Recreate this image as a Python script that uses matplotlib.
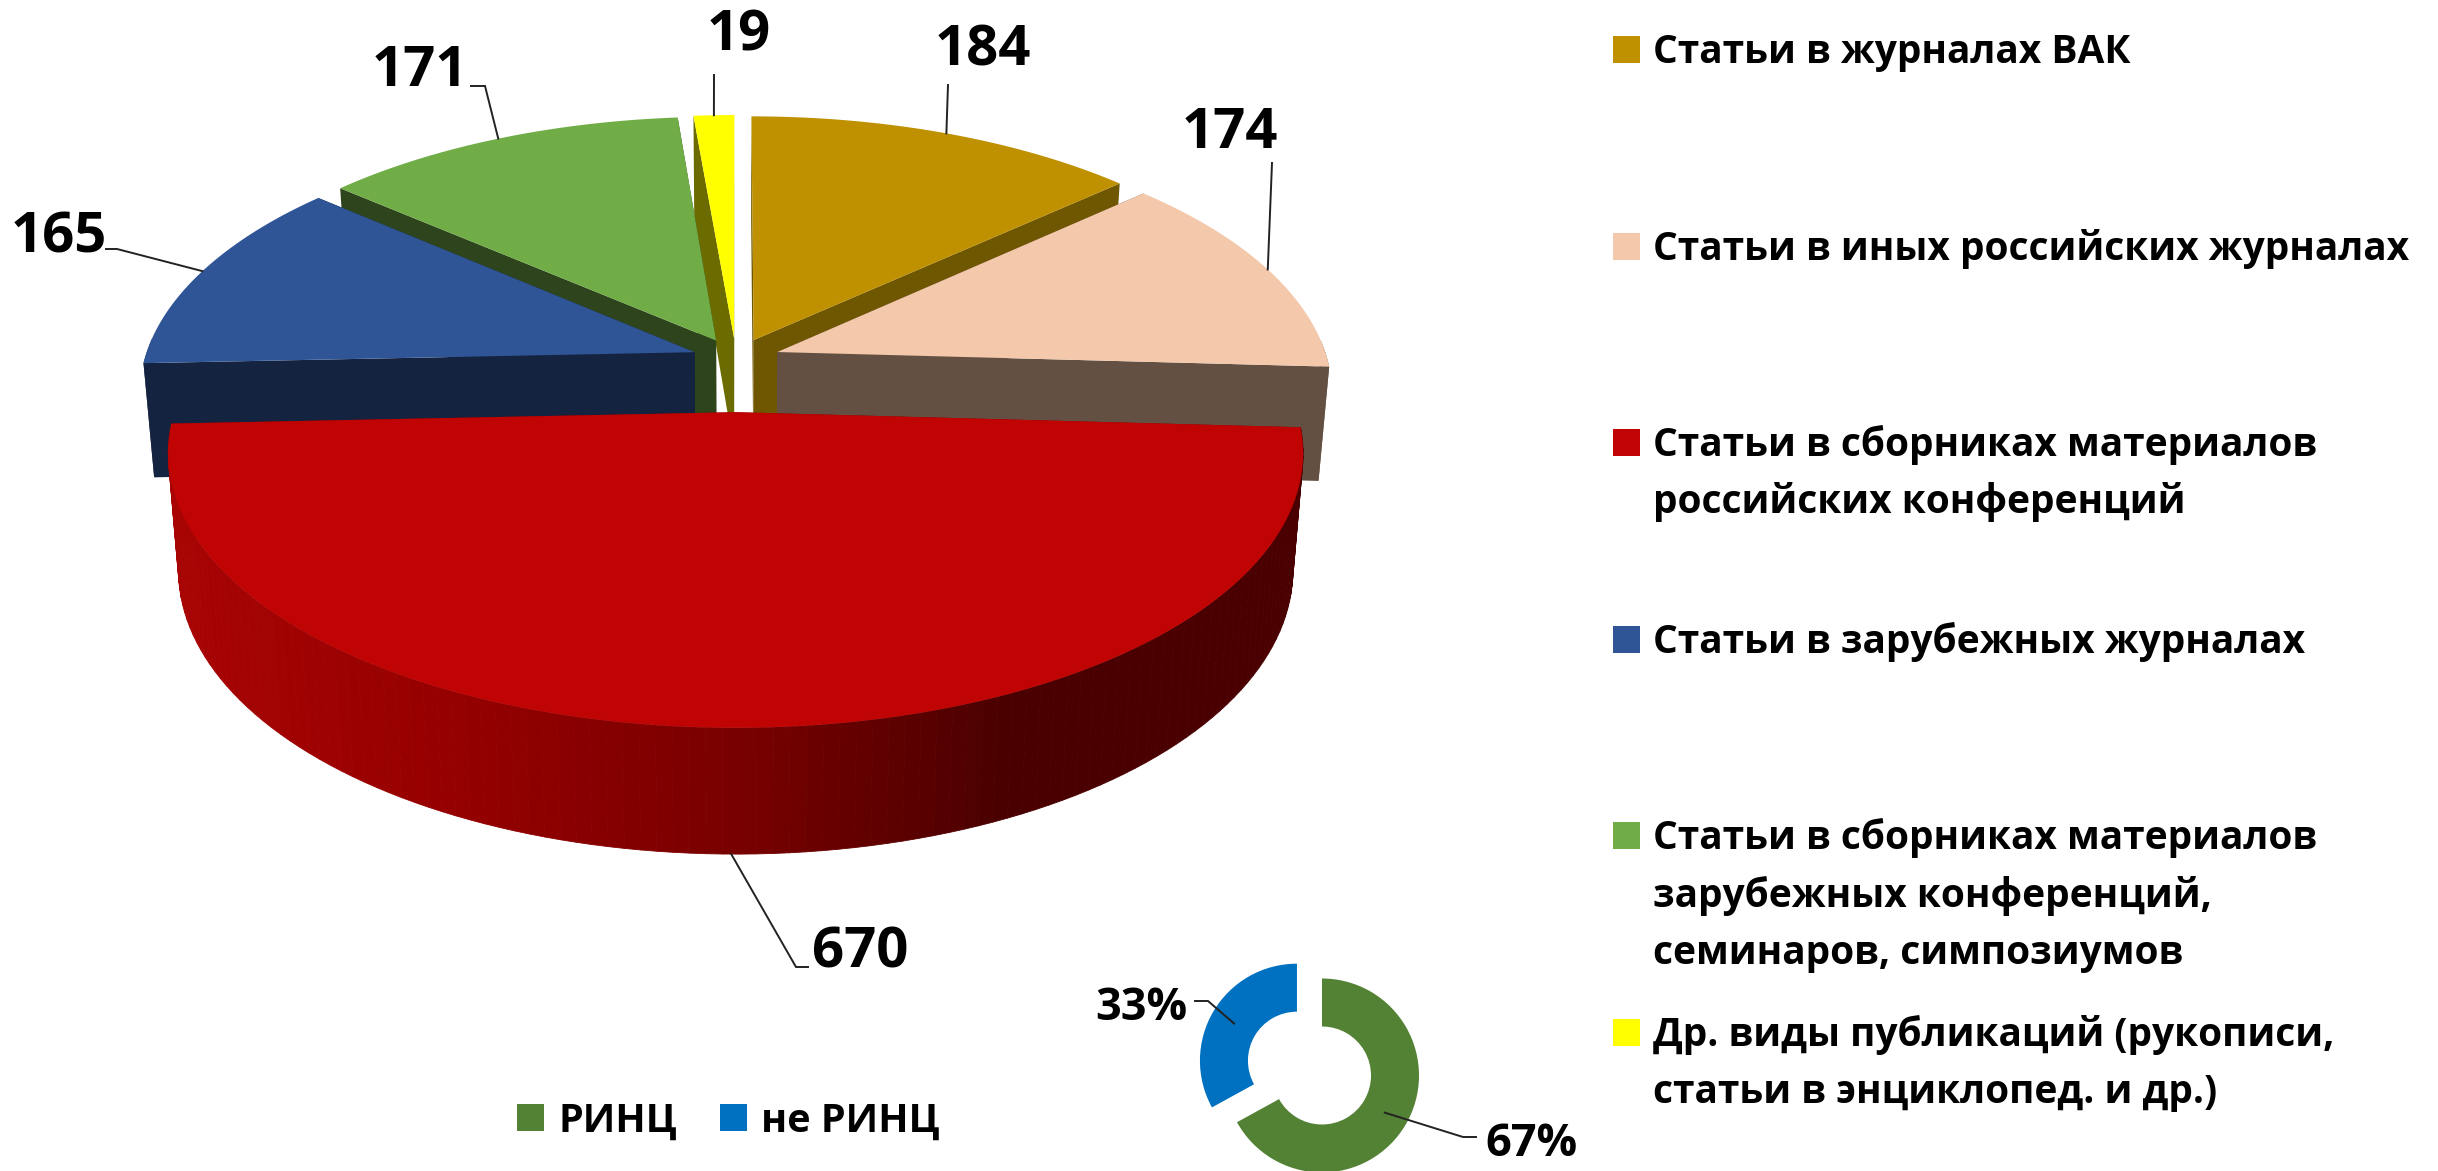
import numpy as np
import matplotlib
matplotlib.use("Agg")
import matplotlib.pyplot as plt
from matplotlib.colors import LinearSegmentedColormap
from matplotlib.patches import Rectangle, Wedge

plt.rcParams["font.family"] = ["Open Sans", "DejaVu Sans"]
plt.rcParams["font.weight"] = "bold"

# publication counts, clockwise from 12 o'clock
values = [184, 174, 670, 165, 171, 19]
top_colors = ["#BF9000", "#F4C8AA", "#C00404", "#2F5597", "#70AD47", "#FFFF00"]
wall_colors = ["#6F5600", "#635042", "#7A0000", "#14233F", "#2D441C", "#6B6B00"]
legend_lines = [
    ["Статьи в журналах ВАК"],
    ["Статьи в иных российских журналах"],
    ["Статьи в сборниках материалов", "российских конференций"],
    ["Статьи в зарубежных журналах"],
    ["Статьи в сборниках материалов", "зарубежных конференций,", "семинаров, симпозиумов"],
    ["Др. виды публикаций (рукописи,", "статьи в энциклопед. и др.)"],
]
legend_y = [49, 246, 442, 639, 835, 1032]

# small ring
ring_values = [67, 33]
ring_names = ["РИНЦ", "не РИНЦ"]
ring_colors = ["#548235", "#0070C0"]

# pie geometry in pixels
CX, CY = 736, 359
A, B, DEPTH = 550, 262, 114
PERSP = 0.148
EXPLODE = 0.08
RED_DROP = 32  # the big slice sits lower than the rest
RED_WIDE = 1.008


def project(u, v, z=0.0):
    s = 1 / (1 - PERSP * v)
    x = CX + A * u * s * (1 - 0.018 * z)
    y = CY + B * v * s + DEPTH * z * (1 + 0.1 * v)
    return x, y


def slice_point(mid, ang, r, z, drop):
    # ang clockwise from the top, v grows towards the viewer
    u = EXPLODE * np.sin(mid) + r * np.sin(ang)
    v = -EXPLODE * np.cos(mid) - r * np.cos(ang)
    if drop:
        u = u * RED_WIDE
    x, y = project(u, v, z)
    return x, y + drop


fig = plt.figure(figsize=(24.38, 11.71), dpi=100)
ax = fig.add_axes([0, 0, 1, 1])
ax.set_xlim(0, 2438)
ax.set_ylim(1171, 0)
ax.axis("off")

shares = np.array(values) / sum(values) * 2 * np.pi
starts = np.concatenate([[0], np.cumsum(shares)[:-1]])
mids = starts + shares / 2
red_grad = LinearSegmentedColormap.from_list("wall", ["#A80404", "#960000", "#7A0000", "#4A0000", "#4A0000"])

# back to front
for z_i, i in enumerate([5, 4, 0, 1, 3, 2]):
    a0, a1, mid = starts[i], starts[i] + shares[i], mids[i]
    drop = RED_DROP if i == 2 else 0
    arc = np.linspace(a0, a1, 120)

    # radial walls
    for ang in (a0, a1):
        p0 = slice_point(mid, ang, 0, 0, drop)
        p1 = slice_point(mid, ang, 1, 0, drop)
        p2 = slice_point(mid, ang, 1, 1, drop)
        p3 = slice_point(mid, ang, 0, 1, drop)
        xs, ys = zip(p0, p1, p2, p3)
        ax.fill(xs, ys, color=wall_colors[i], lw=0, zorder=z_i * 3 + 1)

    # outer wall, only the strips facing the viewer; red shades across
    for a, b in zip(arc[:-1], arc[1:]):
        if np.cos(a) > 0.05:
            continue
        p0 = slice_point(mid, a, 1, 0, drop)
        p1 = slice_point(mid, b, 1, 0, drop)
        p2 = slice_point(mid, b, 1, 1, drop)
        p3 = slice_point(mid, a, 1, 1, drop)
        xs, ys = zip(p0, p1, p2, p3)
        if i == 2:
            c = red_grad(np.clip((p0[0] - 170) / 1130, 0, 1))
            ax.fill(xs, ys, color=c, lw=0.6, ec=c, zorder=z_i * 3 + 2)
        else:
            ax.fill(xs, ys, color=wall_colors[i], lw=0, zorder=z_i * 3 + 2)

    # top face
    ox, oy = slice_point(mid, arc, 1, 0, drop)
    ax0, ay0 = slice_point(mid, a0, 0, 0, drop)
    ax.fill(np.r_[ax0, ox], np.r_[ay0, oy], color=top_colors[i], lw=0, zorder=z_i * 3 + 3)


def leader(points):
    xs, ys = zip(*points)
    ax.plot(xs, ys, color="#222222", lw=1.4, zorder=40, solid_joinstyle="miter")


def top_rim(i):
    return slice_point(mids[i], mids[i], 1, 0, 0)


LABEL = dict(fontsize=40.5, ha="center", va="center", color="black", zorder=50)
leader([top_rim(0), (948, 85)])
leader([top_rim(1), (1272, 163)])
leader([top_rim(3), (117, 249), (106, 249)])
leader([top_rim(4), (485, 86), (471, 86)])
leader([top_rim(5), (714, 75)])
leader([slice_point(mids[2], mids[2], 1, 1, RED_DROP), (796, 967), (808, 967)])

label_pos = [(983, 51), (1230, 134), (860, 953), (59, 238), (420, 71), (739, 36)]
for v, (x, y) in zip(values, label_pos):
    ax.text(x, y, str(v), **LABEL)

# right legend
for lines, col, y in zip(legend_lines, top_colors, legend_y):
    ax.add_patch(Rectangle((1613, y - 13.5), 27, 27, color=col, lw=0))
    for n, line in enumerate(lines):
        ax.text(1653, y + 14 + n * 57.5, line, fontsize=28, va="baseline", ha="left", color="black")

# ring, exploded along the blue part
RC, RY = 1322, 1075.5
R_OUT, R_IN = 97, 49
RING_EXPLODE = 0.3
ring_angle = np.array(ring_values) / sum(ring_values) * 360
blue_mid = np.radians(ring_angle[0] + ring_angle[1] / 2)
bx = RC + RING_EXPLODE * R_OUT * np.sin(blue_mid)
by = RY - RING_EXPLODE * R_OUT * np.cos(blue_mid)
# y axis is inverted, so wedges run clockwise from the top with 270 as start
ax.add_patch(Wedge((RC, RY), R_OUT, 270, 270 + ring_angle[0], width=R_OUT - R_IN,
                   color=ring_colors[0], lw=0, zorder=5))
ax.add_patch(Wedge((bx, by), R_OUT, 270 + ring_angle[0], 630, width=R_OUT - R_IN,
                   color=ring_colors[1], lw=0, zorder=5))
rm = (R_OUT + R_IN) / 2
green_mid = np.radians(ring_angle[0] / 2)
leader([(RC + rm * np.sin(green_mid), RY - rm * np.cos(green_mid)), (1463, 1137), (1476, 1137)])
leader([(bx + rm * np.sin(blue_mid), by - rm * np.cos(blue_mid)), (1208, 1001), (1195, 1001)])
ax.text(1531, 1144, f"{ring_values[0]}%", fontsize=32.5, ha="center", va="center", color="black", zorder=50)
ax.text(1141, 1008, f"{ring_values[1]}%", fontsize=32.5, ha="center", va="center", color="black", zorder=50)

# ring legend
ax.add_patch(Rectangle((517, 1104), 27, 27, color=ring_colors[0], lw=0))
ax.add_patch(Rectangle((720, 1104), 27, 27, color=ring_colors[1], lw=0))
ax.text(558, 1132, ring_names[0], fontsize=28.5, va="baseline", color="black")
ax.text(761, 1132, ring_names[1], fontsize=28.5, va="baseline", color="black")

fig.savefig("out.png", dpi=100, facecolor="white")
